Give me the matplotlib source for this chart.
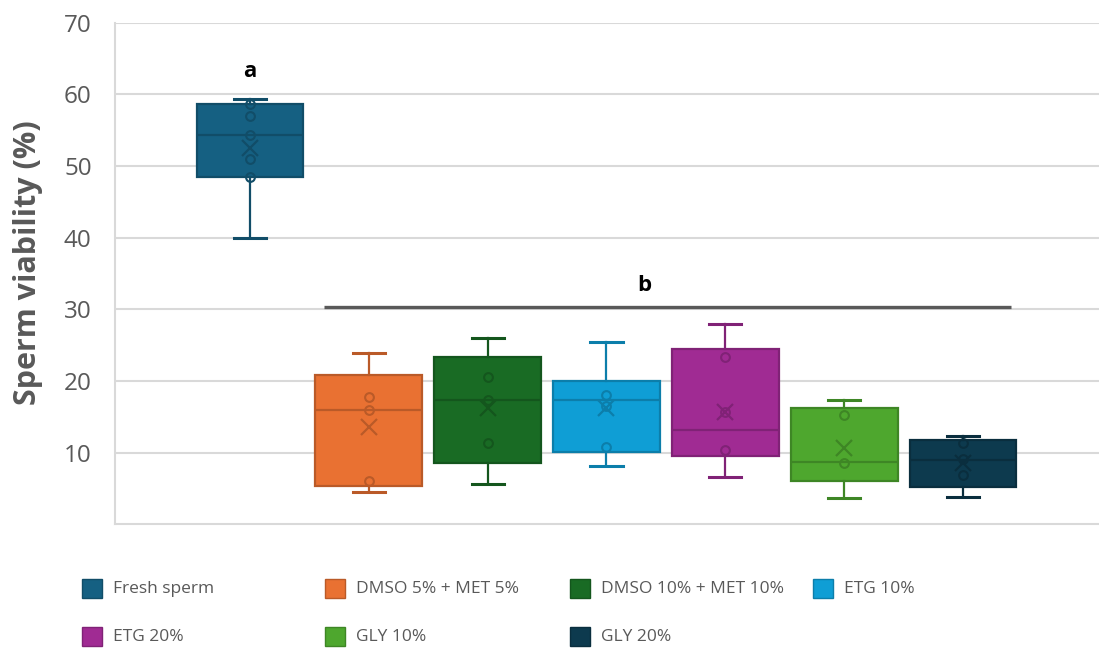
import numpy as np
import matplotlib
matplotlib.use("Agg")
import matplotlib.pyplot as plt
from matplotlib.colors import to_rgb
from matplotlib.patches import Rectangle

plt.rcParams["font.family"] = ["Open Sans", "DejaVu Sans"]

# Treatments and their box statistics (sperm viability, %)
groups = ["Fresh sperm", "DMSO 5% + MET 5%", "DMSO 10% + MET 10%", "ETG 10%",
          "ETG 20%", "GLY 10%", "GLY 20%"]
whisker_lo = [40.0, 4.5, 5.7, 8.15, 6.65, 3.7, 3.8]
q1 = [48.4, 5.3, 8.5, 10.05, 9.5, 6.1, 5.2]
median = [54.3, 15.95, 17.3, 17.3, 13.1, 8.65, 9.0]
q3 = [58.6, 20.8, 23.3, 20.0, 24.4, 16.2, 11.8]
whisker_hi = [59.3, 23.9, 26.0, 25.4, 27.9, 17.35, 12.3]
means = [52.5, 13.6, 16.2, 16.3, 15.7, 10.6, 8.6]
inner_points = [
    [58.6, 57.0, 54.3, 51.0, 48.4],
    [17.7, 16.0, 6.0],
    [20.6, 17.3, 11.4],
    [18.0, 16.5, 10.75],
    [23.3, 15.7, 10.4],
    [15.2, 8.6],
    [11.4, 9.1, 6.85],
]
colors = ["#156082", "#E97132", "#196B24", "#0F9ED5", "#A02B93", "#4EA72E", "#0D3A4E"]

# significance letters
sig_letters = ["a", "b"]
sig_y = [63.1, 33.3]
b_line_y = 30.3


def darker(c, f=0.8):
    r, g, b = to_rgb(c)
    return (r * f, g * f, b * f)


fig = plt.figure(figsize=(10.99, 6.48), dpi=100)
ax = fig.add_axes([115.3 / 1099, 1 - 524.4 / 648, 1 - 115.3 / 1099, (524.4 - 22.5) / 648])

positions = np.arange(1, len(groups) + 1)
stats = []
for i, name in enumerate(groups):
    stats.append(dict(label=name, whislo=whisker_lo[i], q1=q1[i], med=median[i],
                      q3=q3[i], whishi=whisker_hi[i], mean=means[i], fliers=[]))

art = ax.bxp(stats, positions=positions, widths=0.9, capwidths=0.27,
             patch_artist=True, showmeans=True, showfliers=False, zorder=3)

for i, c in enumerate(colors):
    dk = darker(c)
    box = art["boxes"][i]
    box.set_facecolor(c)
    box.set_edgecolor(dk)
    box.set_linewidth(1.6)
    art["medians"][i].set(color=dk, linewidth=1.6)
    for ln in art["whiskers"][2 * i:2 * i + 2]:
        ln.set(color=dk, linewidth=1.6)
    for ln in art["caps"][2 * i:2 * i + 2]:
        ln.set(color=dk, linewidth=2.2)
    art["means"][i].set(marker="x", markersize=11, markeredgewidth=1.6,
                        markeredgecolor=dk, markerfacecolor="none")
    pts = inner_points[i]
    ax.plot(np.full(len(pts), positions[i]), pts, "o", markersize=6.3,
            markerfacecolor="none", markeredgecolor=dk, markeredgewidth=1.5,
            zorder=4)

# letters and group bar
ax.text(1, sig_y[0], sig_letters[0], ha="center", va="center",
        fontsize=16, fontweight="bold", color="black")
ax.text(4.316, sig_y[1], sig_letters[1], ha="center", va="center",
        fontsize=16, fontweight="bold", color="black")
ax.plot([1.623, 7.40], [b_line_y, b_line_y], color="#595959", linewidth=2.4,
        solid_capstyle="butt", zorder=2)

ax.set_xlim(-0.1335, 8.1445)
ax.set_ylim(0, 70)
ax.set_yticks(np.arange(10, 71, 10))
ax.set_xticks([])
ax.yaxis.grid(True, color="#D9D9D9", linewidth=1.5, zorder=0)
ax.set_axisbelow(True)
ax.tick_params(axis="y", length=0, pad=17, labelsize=17.5, labelcolor="#595959")
for side in ["top", "right"]:
    ax.spines[side].set_visible(False)
for side in ["left", "bottom"]:
    ax.spines[side].set_color("#D9D9D9")
    ax.spines[side].set_linewidth(1.5)

fig.text(28 / 1099, 1 - 263 / 648, "Sperm viability (%)", rotation=90,
         ha="center", va="center", fontsize=22, fontweight="bold", color="#595959")

# legend laid out in four fixed-width columns
col_x = [82, 325, 570, 813]
row_y = [588, 636]
for k, (name, c) in enumerate(zip(groups, colors)):
    x0 = col_x[k % 4]
    y0 = row_y[k // 4]
    fig.add_artist(Rectangle((x0 / 1099, 1 - (y0 + 10) / 648), 20 / 1099, 19 / 648,
                             transform=fig.transFigure, facecolor=c,
                             edgecolor=darker(c), linewidth=1.0))
    fig.text((x0 + 31) / 1099, 1 - (y0 + 1) / 648, name, ha="left", va="center",
             fontsize=12.5, color="#595959")

fig.savefig("out.png", dpi=100)
